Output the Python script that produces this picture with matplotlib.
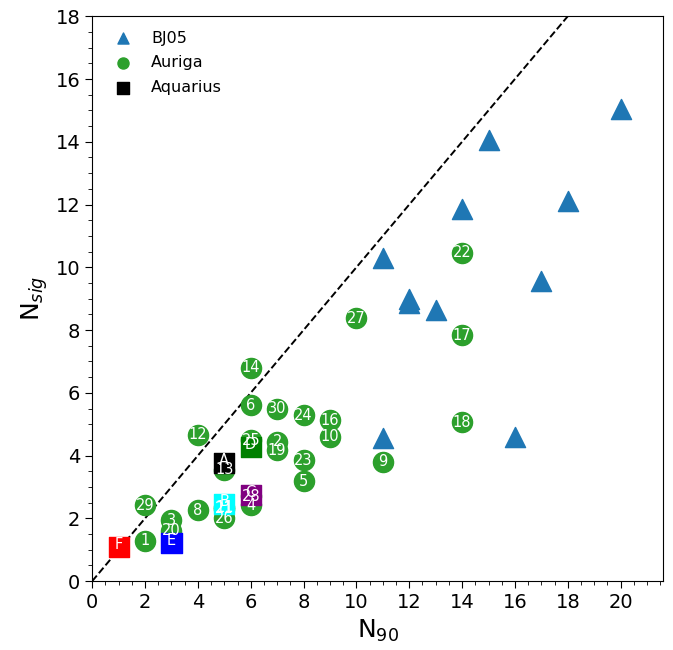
import matplotlib.pyplot as plt
from matplotlib.ticker import MultipleLocator

# BJ05 haloes
bj05_n90 = [20, 15, 14, 18, 11, 12, 12, 13, 17, 11, 16]
bj05_nsig = [15.05, 14.05, 11.85, 12.1, 10.3, 9.0, 8.85, 8.65, 9.55, 4.55, 4.6]

# Auriga haloes
auriga_ids = ["1", "2", "3", "4", "5", "6", "8", "9", "10", "11", "12", "13", "14", "16",
              "17", "18", "19", "20", "21", "22", "23", "24", "25", "26", "27", "28", "29", "30"]
auriga_n90 = [2, 7, 3, 6, 8, 6, 4, 11, 9, 5, 4, 5, 6, 9,
              14, 14, 7, 3, 5, 14, 8, 8, 6, 5, 10, 6, 2, 7]
auriga_nsig = [1.28, 4.44, 1.94, 2.42, 3.18, 5.6, 2.26, 3.8, 4.6, 2.35, 4.67, 3.55, 6.8, 5.13,
               7.83, 5.07, 4.17, 1.6, 2.3, 10.46, 3.85, 5.29, 4.49, 2.0, 8.37, 2.7, 2.42, 5.5]

# Aquarius haloes
aq_ids = ["A", "B", "C", "D", "E", "F"]
aq_n90 = [5, 5, 6, 6, 3, 1]
aq_nsig = [3.77, 2.46, 2.74, 4.28, 1.22, 1.09]
aq_colors = ["black", "cyan", "purple", "green", "blue", "red"]

fig = plt.figure(figsize=(6.73, 6.5), dpi=100)
ax = fig.add_axes([0.137, 0.106, 0.848, 0.869])

ax.plot([0, 25], [0, 25], "k--", lw=1.4, zorder=1)

ax.scatter(bj05_n90, bj05_nsig, marker="^", s=210, color="tab:blue", zorder=2, label="BJ05")
ax.scatter(auriga_n90, auriga_nsig, marker="o", s=210, color="tab:green", zorder=3, label="Auriga")
ax.scatter(aq_n90, aq_nsig, marker="s", s=210, c=aq_colors, zorder=4, label="Aquarius")

for lab, x, y in zip(auriga_ids, auriga_n90, auriga_nsig):
    ax.text(x, y, lab, color="white", fontsize=10.5, ha="center", va="center", zorder=5)
for lab, x, y in zip(aq_ids, aq_n90, aq_nsig):
    ax.text(x, y + 0.08, lab, color="white", fontsize=10.5, ha="center", va="center", zorder=5)

leg = ax.legend(loc="upper left", frameon=False, fontsize=11.5, markerscale=0.55,
                handletextpad=0.8, labelspacing=0.6, borderaxespad=0.5)
leg.legend_handles[2].set_color("black")

ax.set_xlim(0, 21.6)
ax.set_ylim(0, 18)
ax.xaxis.set_major_locator(MultipleLocator(2))
ax.yaxis.set_major_locator(MultipleLocator(2))
ax.xaxis.set_minor_locator(MultipleLocator(0.5))
ax.yaxis.set_minor_locator(MultipleLocator(0.5))
ax.tick_params(which="major", labelsize=14, length=5)
ax.tick_params(which="minor", length=3)
ax.set_xlabel("N$_{90}$", fontsize=18)
ax.set_ylabel("N$_{sig}$", fontsize=18)

fig.savefig("out.png", dpi=100, facecolor="white")
